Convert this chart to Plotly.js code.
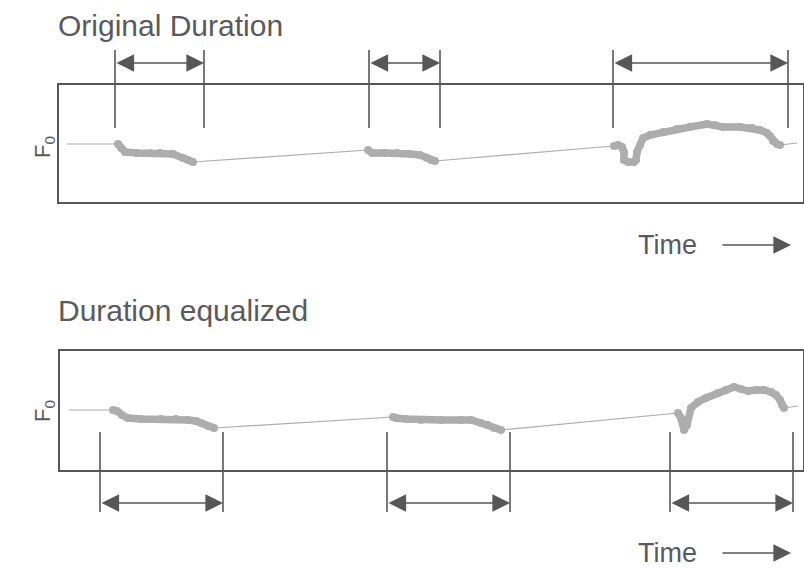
<!DOCTYPE html>
<html>
<head>
<meta charset="utf-8">
<script src="https://cdn.plot.ly/plotly-3.0.1.min.js"></script>
<style>html,body{margin:0;padding:0;background:#fff;}#chart{width:804px;height:568px;}</style>
</head>
<body>
<div id="chart"></div>
<script>
// ---- Original duration panel (time units, F0 units) ----
// interpolated (unvoiced) stretches, separated by null gaps
const topInterpTime = [8, 59, null, 134, 309, null, 376, 555, null, 721, 738];
const topInterpF0   = [158, 158, null, 140, 152, null, 141, 156, null, 157, 159];

const topSeg1Time = [59, 62, 66, 78, 91, 101, 114, 124, 129, 134];
const topSeg1F0   = [158, 154, 150, 149, 149, 149, 148, 144, 142, 140];
const topSeg2Time = [309, 313, 326, 338, 351, 361, 368, 372, 376];
const topSeg2F0   = [152, 149, 149, 149, 148, 147, 144, 142, 141];
const topSeg3Time = [555, 559, 563, 565, 565, 569, 575, 577, 578, 581, 584, 591, 604, 618, 631, 648, 656, 664, 681, 693, 701, 708, 711, 714, 718, 721];
const topSeg3F0   = [156, 157, 155, 150, 142, 140, 140, 142, 150, 157, 164, 167, 170, 173, 175, 178, 177, 175, 175, 174, 172, 169, 166, 161, 158, 157];

const topBoundaries = [[56, 145], [310, 381], [554, 729]];

// ---- Duration equalized panel ----
const botInterpTime = [9, 53, null, 154, 333, null, 441, 618, null, 724, 738];
const botInterpF0   = [160, 160, null, 142, 153, null, 140, 157, null, 162, 164];

const botSeg1Time = [53, 57, 62, 68, 81, 101, 116, 128, 136, 141, 148, 154];
const botSeg1F0   = [160, 159, 155, 152, 151, 151, 151, 150, 149, 147, 144, 142];
const botSeg2Time = [333, 336, 346, 361, 381, 401, 411, 421, 428, 434, 441];
const botSeg2F0   = [153, 152, 151, 150, 150, 150, 150, 147, 145, 142, 140];
const botSeg3Time = [618, 621, 624, 627, 631, 638, 646, 658, 666, 674, 681, 688, 696, 704, 711, 716, 720, 722, 724];
const botSeg3F0   = [157, 152, 140, 145, 162, 168, 172, 177, 180, 183, 181, 179, 180, 180, 178, 175, 170, 165, 162];

const botBoundaries = [[40, 163], [327, 450], [610, 733]];

const panelTitles = ["Original Duration", "Duration equalized"];
const axisLabelY = "F<sub>0</sub>";
const axisLabelX = "Time";

// ---- styling ----
const frameColor = '#575757';
const contourColor = '#adadad';
const textColor = '#5a5a5a';
const font = 'Liberation Sans, Arial, sans-serif';

function thin(x, y, xa, ya) {
  return {x: x, y: y, xaxis: xa, yaxis: ya, mode: 'lines', type: 'scatter', connectgaps: false,
    line: {color: contourColor, width: 1.2}, hoverinfo: 'skip', showlegend: false};
}
function thick(x, y, xa, ya) {
  return {x: x, y: y, xaxis: xa, yaxis: ya, mode: 'lines+markers', type: 'scatter',
    line: {color: contourColor, width: 7.5}, marker: {color: contourColor, size: 8},
    hoverinfo: 'skip', showlegend: false, cliponaxis: false};
}

const data = [
  thin(topInterpTime, topInterpF0, 'x', 'y'),
  thick(topSeg1Time, topSeg1F0, 'x', 'y'),
  thick(topSeg2Time, topSeg2F0, 'x', 'y'),
  thick(topSeg3Time, topSeg3F0, 'x', 'y'),
  thin(botInterpTime, botInterpF0, 'x2', 'y2'),
  thick(botSeg1Time, botSeg1F0, 'x2', 'y2'),
  thick(botSeg2Time, botSeg2F0, 'x2', 'y2'),
  thick(botSeg3Time, botSeg3F0, 'x2', 'y2')
];

const H = 568, W = 804;
const py = p => (H - p) / H;
const px = p => p / W;

const axisBase = {showgrid: false, zeroline: false, showticklabels: false, ticks: '',
  showline: true, mirror: true, linecolor: frameColor, linewidth: 1.6, fixedrange: true};

const shapes = [];
const annotations = [];

function addBoundaries(bounds, xref, y0, y1, yArrow) {
  bounds.forEach(b => {
    b.forEach(t => shapes.push({type: 'line', xref: xref, yref: 'paper', x0: t, x1: t,
      y0: y0, y1: y1, line: {color: frameColor, width: 1.6}}));
    annotations.push({xref: xref, yref: 'paper', x: b[1], y: yArrow, axref: xref, ayref: 'pixel',
      ax: b[0], ay: 0, text: '', showarrow: true, arrowside: 'end+start', arrowhead: 2,
      arrowsize: 2.2, arrowwidth: 1.6, arrowcolor: frameColor, standoff: 0, startstandoff: 0});
  });
}
addBoundaries(topBoundaries, 'x', py(128), py(50), py(63));
addBoundaries(botBoundaries, 'x2', py(512), py(432), py(503));

// titles
annotations.push({xref: 'paper', yref: 'paper', x: px(56), y: py(25), xanchor: 'left', yanchor: 'middle',
  text: panelTitles[0], showarrow: false, font: {family: font, size: 30, color: textColor}});
annotations.push({xref: 'paper', yref: 'paper', x: px(56), y: py(310), xanchor: 'left', yanchor: 'middle',
  text: panelTitles[1], showarrow: false, font: {family: font, size: 30, color: textColor}});
// F0 labels
[147, 411].forEach(c => annotations.push({xref: 'paper', yref: 'paper', x: px(44), y: py(c),
  xanchor: 'center', yanchor: 'middle', textangle: -90, text: axisLabelY, showarrow: false,
  font: {family: font, size: 22, color: textColor}}));
// Time labels + arrows
[245, 553].forEach(c => {
  annotations.push({xref: 'paper', yref: 'paper', x: px(636), y: py(c), xanchor: 'left', yanchor: 'middle',
    text: axisLabelX, showarrow: false, font: {family: font, size: 27, color: textColor}});
  annotations.push({xref: 'paper', yref: 'paper', x: px(791), y: py(c), ax: -70, ay: 0,
    text: '', showarrow: true, arrowhead: 2, arrowsize: 2.2, arrowwidth: 1.6,
    arrowcolor: frameColor, standoff: 0});
});

const layout = {
  width: W, height: H,
  margin: {l: 0, r: 0, t: 0, b: 0},
  paper_bgcolor: '#fff', plot_bgcolor: '#fff',
  showlegend: false,
  xaxis: Object.assign({}, axisBase, {domain: [px(59), px(803)], range: [0, 744], anchor: 'y'}),
  yaxis: Object.assign({}, axisBase, {domain: [py(202), py(85)], range: [100, 217], anchor: 'x'}),
  xaxis2: Object.assign({}, axisBase, {domain: [px(60), px(803)], range: [0, 743], anchor: 'y2'}),
  yaxis2: Object.assign({}, axisBase, {domain: [py(470), py(351)], range: [100, 219], anchor: 'x2'}),
  shapes: shapes,
  annotations: annotations
};

Plotly.newPlot('chart', data, layout, {displayModeBar: false, staticPlot: true});
</script>
</body>
</html>
